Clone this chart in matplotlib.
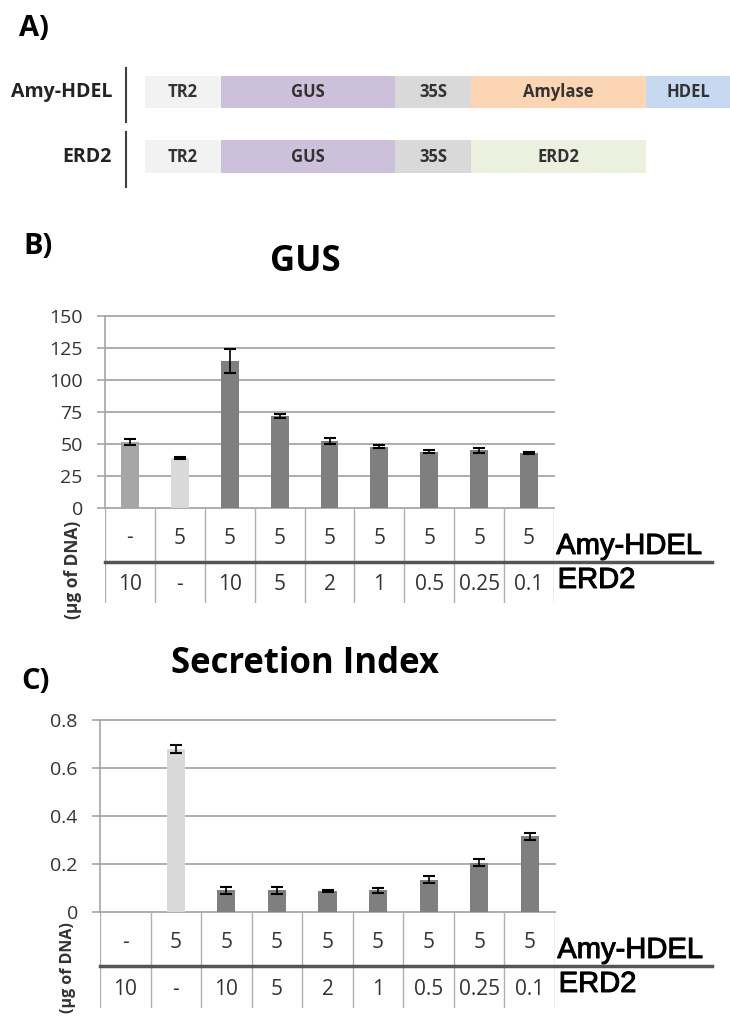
import matplotlib
matplotlib.use("Agg")
import numpy as np
import matplotlib.pyplot as plt
import matplotlib.patheffects as pe
from matplotlib.patches import Rectangle
from matplotlib import transforms

W, H = 730, 1021
plt.rcParams["font.family"] = ["Open Sans", "DejaVu Sans"]

# --- panel A: constructs ---
AMY_PARTS = ["TR2", "GUS", "35S", "Amylase", "HDEL"]
ERD2_PARTS = ["TR2", "GUS", "35S", "ERD2"]
PART_COLOR = {"TR2": "#f2f2f2", "GUS": "#ccc0da", "35S": "#d9d9d9",
              "Amylase": "#fcd5b4", "HDEL": "#c6d9f1", "ERD2": "#ebf1de"}
PART_PX = {"TR2": 76, "GUS": 174, "35S": 76, "Amylase": 175, "HDEL": 84, "ERD2": 175}

# --- panels B and C: DNA amounts (ug) and measurements ---
AMY_DNA = ["-", "5", "5", "5", "5", "5", "5", "5", "5"]
ERD2_DNA = ["10", "-", "10", "5", "2", "1", "0.5", "0.25", "0.1"]
GUS_MEAN = [51.5, 39, 115, 72, 52.5, 48, 44, 45, 43]
GUS_ERR = [2.5, 0.8, 9.5, 1.5, 2.5, 1.0, 1.2, 2.2, 1.0]
SI_MEAN = [np.nan, 0.68, 0.09, 0.09, 0.088, 0.09, 0.135, 0.205, 0.315]
SI_ERR = [np.nan, 0.017, 0.013, 0.013, 0.005, 0.012, 0.015, 0.015, 0.015]
BAR_COLOR = ["#a6a6a6", "#d9d9d9"] + ["#7f7f7f"] * 7

GRID = "#a6a6a6"
TXT = "#333333"
HEAVY = [pe.withStroke(linewidth=0.7, foreground="black")]


def px_axes(fig, x0, y0, x1, y1):
    return fig.add_axes([x0 / W, 1 - y1 / H, (x1 - x0) / W, (y1 - y0) / H])


def draw_construct(ax, name, parts, y0, y1):
    x = 145
    for p in parts:
        w = PART_PX[p]
        ax.add_patch(Rectangle((x, y0), w, y1 - y0, color=PART_COLOR[p], lw=0))
        ax.text(x + w / 2, (y0 + y1) / 2, p, ha="center", va="center",
                fontsize=12, fontweight="bold", color=TXT)
        x += w
    ax.text(112, (y0 + y1) / 2, name, ha="right", va="center",
            fontsize=14, fontweight="bold", color="#222222")
    ax.plot([126, 126], [y0 - 8, y1 + 14], color="#404040", lw=1.5)


def draw_bars(ax, mean, err, ymax, step, labels):
    x = np.arange(len(mean))
    ax.bar(x, mean, width=0.36, color=BAR_COLOR, zorder=3)
    ax.errorbar(x, mean, yerr=err, fmt="none", ecolor="black",
                elinewidth=1.2, capsize=4, capthick=1.5, zorder=4)
    ax.set_xlim(-0.5, len(mean) - 0.5)
    ax.set_ylim(0, ymax)
    ax.set_yticks(np.arange(0, ymax + step / 2, step))
    ax.set_yticklabels(labels)
    ax.yaxis.grid(True, color=GRID, lw=1.3)
    for gl in ax.get_ygridlines():
        gl.set_clip_on(False)
    ax.set_axisbelow(True)
    ax.set_xticks([])
    for s in ("top", "right", "bottom"):
        ax.spines[s].set_visible(False)
    ax.spines["left"].set_color(GRID)
    ax.spines["left"].set_linewidth(1.2)
    ax.tick_params(axis="y", length=6, width=1.2, color=GRID, pad=10,
                   labelsize=14, labelcolor=TXT)
    ax.patch.set_visible(False)


def draw_table(tab, height, line_y, right_px):
    n = len(AMY_DNA)
    tab.set_xlim(-0.5, n - 0.5)
    tab.set_ylim(height, 0)
    tab.axis("off")
    tab.vlines(np.arange(n + 1) - 0.5, 0, height, color="#b0b0b0", lw=1.0)
    x0, x1 = tab.get_position().x0 * W, tab.get_position().x1 * W
    tab.axhline(line_y, xmin=0, xmax=(right_px - x0) / (x1 - x0),
                color="#555555", lw=2.5, clip_on=False)
    for i, (a, e) in enumerate(zip(AMY_DNA, ERD2_DNA)):
        tab.text(i, line_y / 2 + 3, a, ha="center", va="center",
                 fontsize=15, color=TXT)
        tab.text(i, (line_y + height) / 2 + 2, e, ha="center", va="center",
                 fontsize=15, color=TXT)
    tr = transforms.blended_transform_factory(tab.transAxes, tab.transData)
    tab.text(1.005, line_y - 8, "Amy-HDEL", transform=tr, ha="left",
             va="baseline", fontsize=21, color="black", path_effects=HEAVY,
             family=["Liberation Sans", "DejaVu Sans"])
    tab.text(1.008, line_y + 4, "ERD2", transform=tr, ha="left",
             va="top", fontsize=21, color="black", path_effects=HEAVY,
             family=["Liberation Sans", "DejaVu Sans"])


def main():
    fig = plt.figure(figsize=(W / 100, H / 100), dpi=100)
    canvas = fig.add_axes([0, 0, 1, 1])
    canvas.set_xlim(0, W)
    canvas.set_ylim(H, 0)
    canvas.axis("off")

    # A) constructs
    canvas.text(19, 29, "A)", ha="left", va="center", fontsize=21,
                fontweight="bold", color="black")
    draw_construct(canvas, "Amy-HDEL", AMY_PARTS, 76, 108)
    draw_construct(canvas, "ERD2", ERD2_PARTS, 140, 173)

    # B) GUS
    canvas.text(23, 246, "B)", ha="left", va="center", fontsize=21,
                fontweight="bold", color="black")
    canvas.text(305, 262, "GUS", ha="center", va="center", fontsize=25,
                fontweight="bold", color="black")
    ax_b = px_axes(fig, 105, 316, 554, 508)
    draw_bars(ax_b, GUS_MEAN, GUS_ERR, 150, 25,
              ["0", "25", "50", "75", "100", "125", "150"])
    tab_b = px_axes(fig, 105, 508, 554, 603)
    draw_table(tab_b, 95, 54, 712)
    canvas.text(73, 521, "(µg of DNA)", rotation=90, ha="center", va="top",
                fontsize=12.5, fontweight="bold", color=TXT)

    # C) Secretion index
    canvas.text(21, 681, "C)", ha="left", va="center", fontsize=21,
                fontweight="bold", color="black")
    canvas.text(305, 664, "Secretion Index", ha="center", va="center",
                fontsize=25, fontweight="bold", color="black")
    ax_c = px_axes(fig, 100, 720, 555, 912)
    draw_bars(ax_c, SI_MEAN, SI_ERR, 0.8, 0.2,
              ["0", "0.2", "0.4", "0.6", "0.8"])
    tab_c = px_axes(fig, 100, 912, 555, 1008)
    draw_table(tab_c, 96, 54, 712)
    canvas.text(68, 922, "(µg of DNA)", rotation=90, ha="center", va="top",
                fontsize=11.5, fontweight="bold", color=TXT)

    fig.savefig("out.png", dpi=100)


if __name__ == "__main__":
    main()
